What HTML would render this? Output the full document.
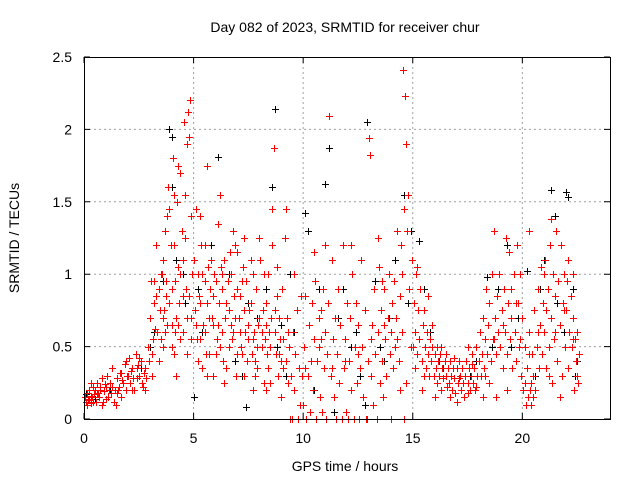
<!DOCTYPE html>
<html><head><meta charset="utf-8"><style>
body{margin:0;background:#fff;}
svg{display:block;font-family:"Liberation Sans",sans-serif;}
</style></head><body>
<svg id="chart" width="640" height="480">
<rect width="640" height="480" fill="#fff"/>
<text x="345" y="32" text-anchor="middle" font-size="14">Day 082 of 2023, SRMTID for receiver chur</text>
<text x="345" y="471" text-anchor="middle" font-size="14">GPS time / hours</text>
<text transform="translate(19,238) rotate(-90)" text-anchor="middle" font-size="14">SRMTID / TECUs</text>
<g id="grid"></g><g id="marks"></g><g id="axes"></g>
</svg>
<script>
const xTicks=[0,5,10,15,20];
const yTicks=[0,0.5,1,1.5,2,2.5];
const yTickLabels=["0","0.5","1","1.5","2","2.5"];
const blackPts=[[0.1,0.17],[0.5,0.14],[1.2,0.2],[2.0,0.3],[3.2,0.6],[3.6,0.95],[3.9,2.0],[4.0,1.95],[4.2,1.1],[4.6,0.8],[5.0,0.15],[5.4,0.6],[6.1,1.81],[6.3,0.9],[6.9,0.4],[7.4,0.08],[7.9,0.7],[8.3,0.9],[8.6,1.6],[8.7,2.14],[8.8,0.5],[9.2,0.3],[9.6,0.6],[10.1,1.42],[10.2,1.3],[10.7,0.9],[11.0,1.62],[11.2,1.87],[11.6,0.7],[12.2,0.5],[12.6,0.3],[12.8,0.1],[12.9,2.05],[13.3,0.95],[13.7,0.4],[14.2,1.1],[14.6,1.55],[14.8,0.8],[15.3,1.23],[15.8,0.6],[16.4,0.35],[17.2,0.2],[17.9,0.4],[18.4,0.98],[18.6,0.5],[19.3,1.2],[19.8,0.7],[20.2,1.02],[20.6,0.3],[21.0,1.1],[21.3,1.58],[21.5,1.4],[21.6,0.8],[22.0,1.57],[22.1,1.53],[22.3,0.9],[22.5,0.4],[6.8,0.6],[7.2,0.3],[9.0,0.65],[10.5,0.2],[11.4,0.05],[13.9,0.7],[17.6,0.3],[3.9,1.45],[4.0,1.6],[4.5,1.0],[5.2,0.9],[5.8,1.2],[6.6,1.0],[7.5,0.8],[8.1,0.5],[9.4,1.0],[10.4,0.8],[11.8,0.9],[12.4,0.6],[13.5,0.5],[14.9,1.3],[15.5,0.9],[16.2,0.4],[18.2,0.7],[18.9,0.9],[19.5,0.5],[20.8,0.9],[21.9,0.6],[22.4,0.3],[1.8,0.25],[2.6,0.35],[3.0,0.5]];
const red0to5=[[0.05,0.15],[0.1,0.12],[0.12,0.18],[0.15,0.1],[0.2,0.14],[0.22,0.2],[0.25,0.13],[0.3,0.16],[0.32,0.11],[0.35,0.15],[0.4,0.22],[0.42,0.12],[0.45,0.17],[0.5,0.2],[0.55,0.12],[0.6,0.25],[0.65,0.18],[0.7,0.15],[0.72,0.22],[0.75,0.2],[0.8,0.28],[0.85,0.12],[0.9,0.19],[0.95,0.24],[1.0,0.22],[1.05,0.3],[1.1,0.15],[1.15,0.2],[1.2,0.25],[1.25,0.18],[1.3,0.35],[1.35,0.12],[1.4,0.2],[1.45,0.1],[1.5,0.28],[1.55,0.2],[1.6,0.22],[1.65,0.32],[1.7,0.15],[1.75,0.27],[1.8,0.25],[1.85,0.38],[1.9,0.2],[1.95,0.3],[2.0,0.3],[2.05,0.42],[2.1,0.25],[2.15,0.33],[2.2,0.35],[2.25,0.28],[2.3,0.2],[2.35,0.45],[2.4,0.28],[2.45,0.37],[2.5,0.3],[2.6,0.4],[2.65,0.25],[2.7,0.22],[2.75,0.32],[2.8,0.35],[2.85,0.28],[2.9,0.5],[2.95,0.4],[3.0,0.7],[3.05,0.95],[3.1,0.45],[3.15,0.55],[3.2,0.8],[3.25,0.62],[3.3,1.2],[3.35,0.6],[3.4,0.9],[3.45,0.75],[3.5,0.55],[3.55,1.0],[3.6,1.1],[3.65,0.75],[3.7,1.3],[3.75,0.85],[3.8,0.65],[3.85,1.6],[3.9,1.45],[3.95,1.2],[4.0,0.9],[4.05,1.8],[4.1,1.2],[4.15,0.95],[4.2,0.7],[4.25,1.5],[4.3,1.05],[4.35,0.8],[4.4,1.7],[4.45,1.3],[4.5,0.6],[4.55,2.05],[4.6,1.25],[4.65,0.9],[4.7,1.9],[4.75,2.12],[4.8,0.85],[4.85,2.2],[4.9,1.4],[4.95,1.0],[4.1,1.55],[4.3,1.75],[4.6,1.55],[4.8,1.95],[3.8,1.4],[4.0,0.5],[4.2,0.3],[4.4,0.55],[4.7,0.45],[3.6,0.5],[3.4,0.4],[4.9,0.7],[4.5,1.1],[4.15,0.6],[3.75,0.95]];
const red5to10=[[5.0,1.1],[5.05,0.75],[5.1,1.45],[5.15,0.55],[5.2,1.0],[5.25,0.85],[5.3,0.55],[5.35,1.2],[5.4,1.0],[5.45,0.65],[5.5,1.2],[5.55,0.45],[5.6,0.8],[5.65,1.05],[5.7,0.45],[5.75,0.9],[5.8,1.1],[5.85,0.7],[5.9,0.65],[5.95,1.0],[6.0,0.95],[6.05,0.55],[6.1,1.35],[6.15,0.8],[6.2,0.5],[6.25,1.05],[6.3,0.9],[6.35,0.4],[6.4,1.1],[6.45,0.7],[6.5,0.35],[6.55,0.95],[6.6,0.75],[6.65,1.15],[6.7,1.0],[6.75,0.55],[6.8,0.6],[6.85,0.85],[6.9,1.2],[6.95,0.3],[7.0,0.45],[7.05,0.7],[7.1,0.85],[7.15,0.5],[7.2,0.95],[7.25,1.05],[7.3,0.3],[7.35,0.6],[7.4,0.95],[7.45,0.4],[7.5,0.55],[7.55,0.75],[7.6,0.8],[7.65,0.45],[7.7,1.0],[7.75,0.6],[7.8,0.4],[7.85,0.9],[7.9,0.35],[7.95,0.65],[8.0,0.7],[8.05,1.1],[8.1,0.5],[8.15,0.75],[8.2,0.25],[8.25,0.55],[8.3,0.8],[8.35,0.45],[8.4,1.0],[8.45,0.6],[8.5,0.25],[8.55,0.7],[8.6,1.2],[8.65,1.87],[8.7,0.6],[8.75,0.45],[8.8,0.85],[8.85,0.3],[8.9,0.7],[8.95,0.55],[9.0,0.15],[9.05,0.9],[9.1,0.55],[9.15,1.25],[9.2,0.4],[9.25,0.7],[9.3,0.25],[9.35,0.5],[9.4,0.0],[9.45,0.3],[9.5,0.0],[9.55,0.6],[9.6,0.2],[9.65,0.45],[9.7,0.75],[9.75,0.0],[9.8,0.35],[9.85,0.1],[9.9,0.85],[9.95,0.3],[5.6,1.75],[6.2,1.55],[5.3,1.4],[6.8,1.3],[7.3,1.25],[8.6,1.45],[9.2,1.45],[7.7,0.2],[8.3,0.2],[5.9,0.3],[6.4,0.25],[7.0,1.15],[8.0,1.25],[9.6,1.0],[5.4,0.35]];
const red10to15=[[10.0,0.1],[10.05,0.5],[10.1,0.85],[10.15,0.0],[10.2,0.3],[10.25,0.65],[10.3,0.05],[10.35,0.4],[10.4,0.8],[10.45,0.2],[10.5,0.55],[10.55,0.95],[10.6,0.0],[10.65,0.4],[10.7,0.7],[10.75,0.15],[10.8,0.55],[10.85,0.05],[10.9,0.9],[10.95,0.35],[11.0,0.6],[11.05,0.0],[11.1,0.45],[11.15,0.8],[11.2,2.09],[11.25,0.3],[11.3,1.1],[11.35,0.55],[11.4,0.15],[11.45,0.7],[11.5,0.0],[11.55,0.45],[11.6,0.9],[11.65,0.25],[11.7,0.65],[11.75,0.0],[11.8,1.2],[11.85,0.35],[11.9,0.55],[11.95,0.05],[12.0,0.8],[12.05,0.0],[12.1,0.4],[12.15,0.7],[12.2,0.2],[12.25,1.0],[12.3,0.0],[12.35,0.5],[12.4,0.8],[12.45,0.25],[12.5,0.65],[12.55,0.0],[12.6,0.35],[12.65,1.1],[12.7,0.5],[12.75,0.15],[12.8,0.75],[12.85,0.0],[12.95,0.4],[13.0,1.94],[13.05,1.82],[13.1,0.3],[13.15,0.65],[13.2,0.1],[13.25,0.9],[13.3,0.45],[13.35,0.0],[13.4,0.6],[13.45,1.05],[13.5,0.25],[13.55,0.75],[13.6,0.4],[13.65,0.15],[13.7,0.9],[13.75,0.55],[13.8,0.3],[13.85,0.7],[13.9,1.0],[13.95,0.45],[14.0,0.6],[14.05,0.8],[14.1,0.35],[14.15,0.95],[14.2,0.5],[14.25,0.7],[14.3,1.3],[14.35,0.4],[14.4,0.85],[14.45,1.2],[14.5,0.6],[14.55,2.41],[14.6,1.45],[14.65,2.23],[14.7,1.9],[14.75,1.3],[14.8,1.55],[14.85,0.9],[14.95,1.1],[10.5,1.15],[11.0,1.2],[12.2,1.2],[13.4,1.25],[14.5,1.0],[14.7,0.25],[14.4,0.2],[10.8,0.75],[12.9,0.0],[14.0,0.0],[14.6,0.0],[13.6,0.95]];
const red15to20=[[15.0,0.5],[15.05,0.8],[15.1,0.6],[15.15,1.0],[15.2,0.45],[15.25,0.75],[15.3,0.55],[15.35,0.9],[15.4,0.4],[15.45,0.65],[15.5,0.75],[15.55,0.5],[15.6,0.35],[15.65,0.6],[15.7,0.45],[15.75,0.3],[15.8,0.55],[15.85,0.4],[15.9,0.5],[15.95,0.3],[16.0,0.45],[16.05,0.35],[16.1,0.25],[16.15,0.4],[16.2,0.3],[16.25,0.45],[16.3,0.2],[16.35,0.35],[16.4,0.28],[16.45,0.4],[16.5,0.3],[16.55,0.22],[16.6,0.35],[16.65,0.25],[16.7,0.4],[16.75,0.3],[16.8,0.2],[16.85,0.35],[16.9,0.28],[16.95,0.18],[17.0,0.35],[17.05,0.25],[17.1,0.4],[17.15,0.3],[17.2,0.2],[17.25,0.35],[17.3,0.25],[17.35,0.15],[17.4,0.3],[17.45,0.4],[17.5,0.25],[17.55,0.35],[17.6,0.2],[17.65,0.3],[17.7,0.45],[17.75,0.25],[17.8,0.35],[17.85,0.2],[17.9,0.5],[17.95,0.3],[18.0,0.4],[18.05,0.6],[18.1,0.3],[18.15,0.45],[18.2,0.7],[18.25,0.35],[18.3,0.55],[18.35,0.9],[18.4,0.45],[18.45,0.65],[18.5,0.8],[18.55,0.4],[18.6,1.0],[18.65,0.55],[18.7,1.3],[18.75,0.7],[18.8,0.45],[18.85,0.85],[18.9,0.6],[18.95,1.0],[19.0,0.5],[19.05,0.75],[19.1,0.35],[19.15,0.9],[19.2,0.6],[19.25,1.25],[19.3,0.45],[19.35,0.8],[19.4,1.15],[19.45,0.55],[19.5,0.7],[19.55,0.35],[19.6,1.0],[19.65,0.6],[19.7,0.4],[19.75,1.2],[19.8,0.8],[19.85,0.5],[19.9,1.0],[19.95,0.3],[15.2,1.05],[15.4,0.2],[16.0,0.15],[17.0,0.12],[18.2,0.15],[18.8,0.15],[19.3,0.2],[17.5,0.5],[16.5,0.45],[15.7,0.85]];
const red20to23=[[20.0,0.7],[20.05,0.2],[20.1,0.5],[20.15,0.1],[20.2,0.35],[20.25,0.15],[20.3,0.6],[20.35,0.2],[20.4,0.1],[20.45,0.45],[20.5,0.3],[20.55,0.75],[20.6,0.2],[20.65,0.5],[20.7,0.9],[20.75,0.35],[20.8,0.65],[20.85,1.05],[20.9,0.45],[20.95,0.8],[21.0,0.6],[21.05,1.1],[21.1,0.35],[21.15,0.9],[21.2,0.5],[21.25,1.2],[21.3,0.7],[21.35,0.25],[21.4,1.0],[21.45,0.55],[21.5,0.85],[21.55,1.3],[21.6,0.4],[21.65,0.95],[21.7,0.65],[21.75,1.2],[21.8,0.3],[21.85,0.8],[21.9,1.0],[21.95,0.5],[22.0,0.75],[22.05,0.95],[22.1,0.35],[22.15,0.6],[22.2,0.85],[22.25,0.5],[22.3,0.7],[22.35,0.2],[22.4,0.55],[22.45,0.4],[22.5,0.3],[22.55,0.25],[22.6,0.45],[21.3,1.38],[21.0,1.0],[21.7,0.15],[20.4,0.25],[20.3,1.3],[22.3,1.0]];
const redExtra=[[3.1,0.3],[3.3,0.85],[3.5,1.0],[3.7,0.6],[3.9,0.8],[4.1,0.45],[4.3,0.65],[4.5,0.85],[4.7,0.7],[4.9,0.55],[5.1,0.65],[5.3,0.8],[5.5,0.6],[5.7,0.7],[5.9,0.85],[6.1,0.65],[6.3,0.6],[6.5,0.8],[6.7,0.65],[6.9,0.7],[7.1,0.6],[7.3,0.75],[7.5,0.65],[7.7,0.55],[7.9,0.5],[8.1,0.6],[8.3,0.65],[8.5,0.5],[8.7,0.75],[8.9,0.45],[9.1,0.35],[9.3,0.6],[5.2,0.4],[5.6,0.3],[6.0,0.45],[6.6,0.5],[7.2,0.45],[7.8,0.3],[8.4,0.35],[9.0,0.4],[5.5,0.95],[6.3,1.0],[7.0,0.9],[7.6,1.1],[8.2,1.0],[8.8,1.05],[3.2,0.95],[3.6,0.7],[4.0,0.65],[4.4,1.0],[10.1,0.35],[10.7,0.5],[11.3,0.35],[11.9,0.4],[12.5,0.45],[13.1,0.55],[13.7,0.65],[14.3,0.55],[14.9,0.5],[15.1,0.35],[15.5,0.3],[15.9,0.65],[16.3,0.5],[16.7,0.15],[17.1,0.28],[17.5,0.18],[17.9,0.22],[18.3,0.3],[18.7,0.55],[19.1,0.65],[19.5,0.9],[19.9,0.55],[20.3,0.45],[20.7,0.6],[21.1,0.75],[21.5,0.6],[21.9,0.75],[22.3,0.55],[22.5,0.6],[20.1,0.25],[20.5,0.15],[16.1,0.5],[16.9,0.42],[17.7,0.38],[18.5,0.25],[19.7,0.8],[21.2,0.3],[22.1,1.1],[0.3,0.25],[0.8,0.1],[1.3,0.22],[1.7,0.32],[2.2,0.2],[2.5,0.42],[2.8,0.2],[0.6,0.18],[1.0,0.14],[1.5,0.18],[1.9,0.4],[2.4,0.35]];
const X0=84,X1=610,Y0=419,Y1=57,XMAX=24,YMAX=2.5;
const xs=v=>X0+(X1-X0)*v/XMAX, ys=v=>Y0-(Y0-Y1)*v/YMAX;
const NS="http://www.w3.org/2000/svg";
function mk(tag,attrs,parent){const e=document.createElementNS(NS,tag);for(const k in attrs)e.setAttribute(k,attrs[k]);parent.appendChild(e);return e;}
const grid=document.getElementById('grid'),marks=document.getElementById('marks'),axes=document.getElementById('axes');
xTicks.forEach((t,i)=>{const x=xs(t);
 if(t>0){const g=mk('line',{x1:x,x2:x,y1:Y1,y2:Y0,stroke:'#a0a0a0','stroke-dasharray':'2,3'},grid);
 
 }
 const l=mk('text',{x:x,y:Y0+24,'text-anchor':'middle','font-size':14},axes);l.textContent=String(t);
 
 
 const tk=mk('path',{d:`M${x},${Y0}v-6M${x},${Y1}v6`,stroke:'#000'},axes);
 
 });
yTicks.forEach((t,i)=>{const y=ys(t);
 if(t>0&&t<YMAX){const g=mk('line',{x1:X0,x2:X1,y1:y,y2:y,stroke:'#a0a0a0','stroke-dasharray':'2,3'},grid);
 
 }
 const l=mk('text',{x:X0-12,y:y+5,'text-anchor':'end','font-size':14},axes);l.textContent=yTickLabels[i];
 
 
 const tk=mk('path',{d:`M${X0},${y}h6M${X1},${y}h-6`,stroke:'#000'},axes);
 
 });
function plus(t,v,c,name){const x=Math.round(xs(t))+0.5,y=Math.round(ys(v))+0.5;
 const p=mk('path',{d:`M${x-3.5},${y}h7M${x},${y-3.5}v7`,stroke:c,'stroke-width':1},marks);
 
 }
blackPts.forEach(p=>plus(p[0],p[1],'#000','black-point'));
[red0to5,red5to10,red10to15,red15to20,red20to23,redExtra].forEach(seg=>seg.forEach(p=>plus(p[0],p[1],'#f00','red-point')));
const frame=mk('rect',{x:X0+0.5,y:Y1+0.5,width:X1-X0,height:Y0-Y1,fill:'none',stroke:'#000'},axes);


</script>
</body></html>
